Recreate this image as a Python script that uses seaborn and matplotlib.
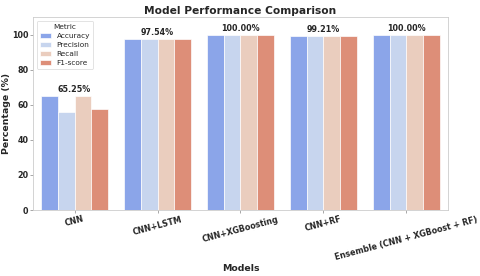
import pandas as pd
import matplotlib.pyplot as plt
import seaborn as sns

models = ["CNN", "CNN+LSTM", "CNN+XGBoosting", "CNN+RF", "Ensemble (CNN + XGBoost + RF)"]
accuracy = [65.25, 97.54, 100.00, 99.21, 100.00]
precision = [56.0, 97.5, 100.0, 99.2, 100.0]
recall = [65.3, 97.5, 100.0, 99.2, 100.0]
f1_score = [57.7, 97.5, 100.0, 99.2, 100.0]

df = pd.DataFrame({
    "Model": models,
    "Accuracy": accuracy,
    "Precision": precision,
    "Recall": recall,
    "F1-score": f1_score,
})
df_long = df.melt(id_vars="Model", var_name="Metric", value_name="Score")

sns.set_theme(style="whitegrid")
# drawn at low dpi so font sizes stay in "normal" points
fig, ax = plt.subplots(figsize=(10, 5.75), dpi=48)
sns.barplot(data=df_long, x="Model", y="Score", hue="Metric",
            palette="coolwarm", ax=ax)
ax.grid(False)

for i, v in enumerate(accuracy):
    ax.text(i, v + 1, f"{v:.2f}%", ha="center", va="bottom",
            fontsize=12, fontweight="bold")

ax.set_ylim(0, 110)
ax.set_title("Model Performance Comparison", fontsize=16, fontweight="bold", pad=4)
ax.set_xlabel("Models", fontsize=14, fontweight="bold")
ax.set_ylabel("Percentage (%)", fontsize=14, fontweight="bold", labelpad=1)
ax.tick_params(axis="both", labelsize=12, bottom=True, left=True,
               length=4, color="0.6", pad=3)
plt.xticks(rotation=15)
for lbl in ax.get_xticklabels() + ax.get_yticklabels():
    lbl.set_fontweight("bold")
ax.legend(title="Metric", loc="upper left", fontsize=11, title_fontsize=11,
          labelspacing=0.42, handlelength=1.5, handleheight=0.6)

plt.subplots_adjust(left=0.069, right=0.933, top=0.938, bottom=0.239)
plt.savefig("out.png")
